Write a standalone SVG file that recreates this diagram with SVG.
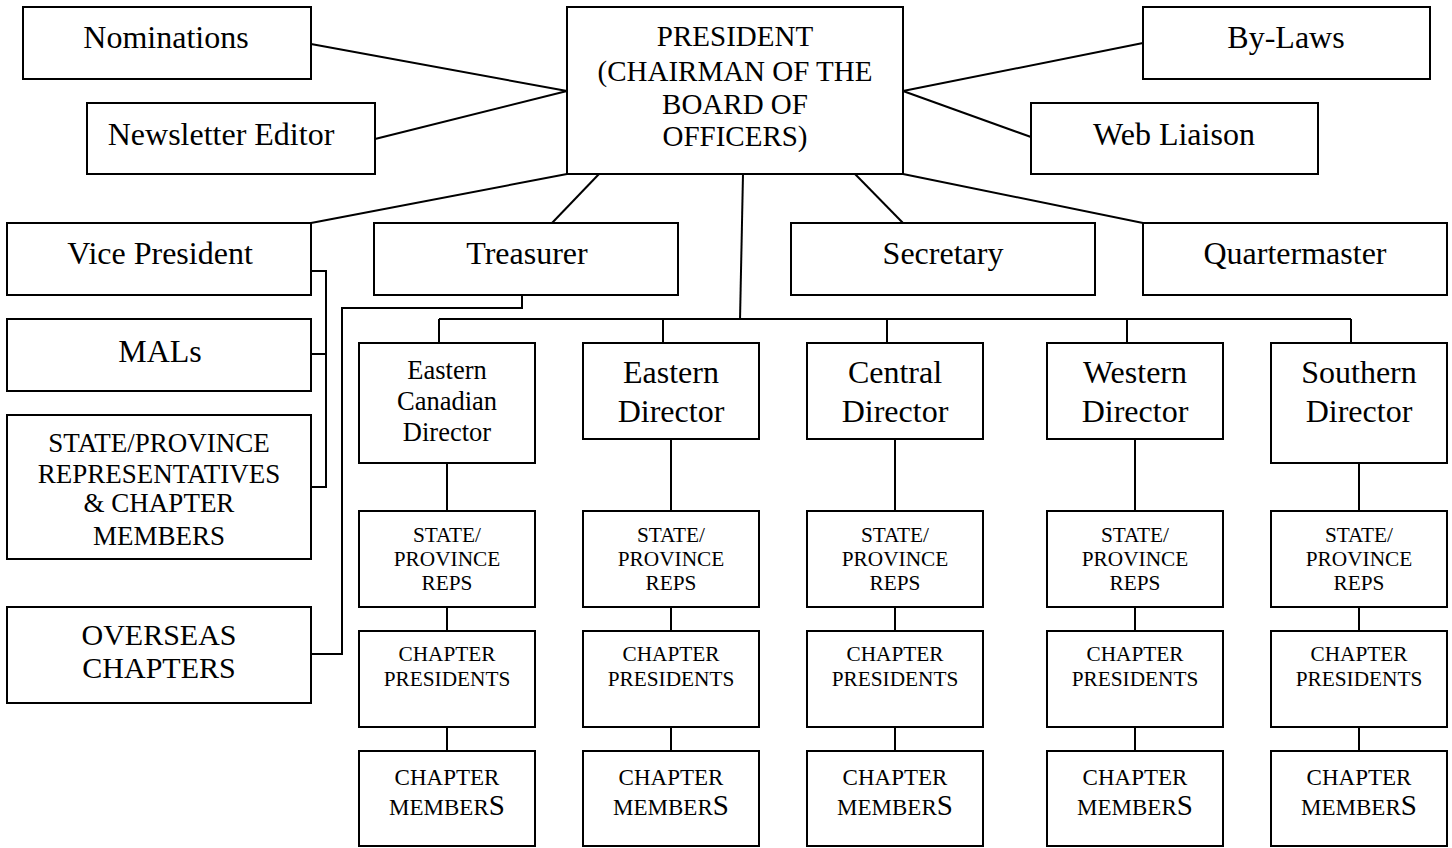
<svg xmlns="http://www.w3.org/2000/svg" width="1452" height="848" viewBox="0 0 1452 848">
<style>
rect{fill:#fff;stroke:#000;stroke-width:2}
.c line,.c polyline{stroke:#000;stroke-width:2;fill:none}
text{font-family:"Liberation Serif","Times New Roman",serif;fill:#000;text-anchor:middle}
.f32{font-size:32px}.f30{font-size:30px}.f29{font-size:29px}.f27{font-size:27px}.f26{font-size:26.5px}.f23{font-size:23px}.f21{font-size:21.3px}
</style>
<rect x="0" y="0" width="1452" height="848" style="stroke:none"/>
<g class="c" id="connectors">
<line x1="311" y1="44" x2="567" y2="91"/>
<line x1="375" y1="139" x2="567" y2="91"/>
<line x1="903" y1="91" x2="1143" y2="43"/>
<line x1="903" y1="91" x2="1031" y2="137"/>
<line x1="567" y1="174" x2="311" y2="223"/>
<line x1="599" y1="174" x2="552" y2="223"/>
<line x1="855" y1="174" x2="903" y2="223"/>
<line x1="903" y1="174" x2="1143" y2="223"/>
<line x1="743" y1="174" x2="740" y2="320"/>
<line x1="439" y1="319" x2="1351" y2="319"/>
<line x1="439" y1="319" x2="439" y2="343"/>
<line x1="663" y1="319" x2="663" y2="343"/>
<line x1="887" y1="319" x2="887" y2="343"/>
<line x1="1127" y1="319" x2="1127" y2="343"/>
<line x1="1351" y1="319" x2="1351" y2="343"/>
<polyline points="311,271 326,271 326,487 311,487"/>
<line x1="311" y1="354" x2="326" y2="354"/>
<polyline points="522,295 522,308 342,308 342,654 311,654"/>
<line x1="447" y1="463" x2="447" y2="511"/>
<line x1="671" y1="439" x2="671" y2="511"/>
<line x1="895" y1="439" x2="895" y2="511"/>
<line x1="1135" y1="439" x2="1135" y2="511"/>
<line x1="1359" y1="463" x2="1359" y2="511"/>
<line x1="447" y1="607" x2="447" y2="631"/>
<line x1="671" y1="607" x2="671" y2="631"/>
<line x1="895" y1="607" x2="895" y2="631"/>
<line x1="1135" y1="607" x2="1135" y2="631"/>
<line x1="1359" y1="607" x2="1359" y2="631"/>
<line x1="447" y1="727" x2="447" y2="751"/>
<line x1="671" y1="727" x2="671" y2="751"/>
<line x1="895" y1="727" x2="895" y2="751"/>
<line x1="1135" y1="727" x2="1135" y2="751"/>
<line x1="1359" y1="727" x2="1359" y2="751"/>
</g>
<g id="nominations"><rect x="23" y="7" width="288" height="72"/><text class="f32" x="166" y="48">Nominations</text></g>
<g id="newsletter"><rect x="87" y="103" width="288" height="71"/><text class="f32" x="221" y="145">Newsletter Editor</text></g>
<g id="president"><rect x="567" y="7" width="336" height="167"/>
<text class="f29" x="735" y="46">PRESIDENT</text>
<text class="f29" x="735" y="81">(CHAIRMAN OF THE</text>
<text class="f29" x="735" y="114">BOARD OF</text>
<text class="f29" x="735" y="146">OFFICERS)</text></g>
<g id="bylaws"><rect x="1143" y="7" width="287" height="72"/><text class="f32" x="1286" y="48">By-Laws</text></g>
<g id="webliaison"><rect x="1031" y="103" width="287" height="71"/><text class="f32" x="1174" y="145">Web Liaison</text></g>
<g id="vp"><rect x="7" y="223" width="304" height="72"/><text class="f32" x="160" y="264">Vice President</text></g>
<g id="treasurer"><rect x="374" y="223" width="304" height="72"/><text class="f32" x="527" y="264">Treasurer</text></g>
<g id="secretary"><rect x="791" y="223" width="304" height="72"/><text class="f32" x="943" y="264">Secretary</text></g>
<g id="quartermaster"><rect x="1143" y="223" width="304" height="72"/><text class="f32" x="1295" y="264">Quartermaster</text></g>
<g id="mals"><rect x="7" y="319" width="304" height="72"/><text class="f32" x="160" y="362">MALs</text></g>
<g id="stateprov"><rect x="7" y="415" width="304" height="144"/>
<text class="f27" x="159" y="452">STATE/PROVINCE</text>
<text class="f27" x="159" y="483">REPRESENTATIVES</text>
<text class="f27" x="159" y="512">&amp; CHAPTER</text>
<text class="f27" x="159" y="545">MEMBERS</text></g>
<g id="overseas"><rect x="7" y="607" width="304" height="96"/>
<text class="f30" x="159" y="645">OVERSEAS</text>
<text class="f30" x="159" y="678">CHAPTERS</text></g>
<g id="dir-ec"><rect x="359" y="343" width="176" height="120"/>
<text class="f26" x="447" y="379">Eastern</text><text class="f26" x="447" y="410">Canadian</text><text class="f26" x="447" y="441">Director</text></g>
<g id="dir-e"><rect x="583" y="343" width="176" height="96"/>
<text class="f32" x="671" y="383">Eastern</text><text class="f32" x="671" y="422">Director</text></g>
<g id="dir-c"><rect x="807" y="343" width="176" height="96"/>
<text class="f32" x="895" y="383">Central</text><text class="f32" x="895" y="422">Director</text></g>
<g id="dir-w"><rect x="1047" y="343" width="176" height="96"/>
<text class="f32" x="1135" y="383">Western</text><text class="f32" x="1135" y="422">Director</text></g>
<g id="dir-s"><rect x="1271" y="343" width="176" height="120"/>
<text class="f32" x="1359" y="383">Southern</text><text class="f32" x="1359" y="422">Director</text></g>
<g id="reps-1"><rect x="359" y="511" width="176" height="96"/><text class="f21" x="447" y="542">STATE/</text><text class="f21" x="447" y="566">PROVINCE</text><text class="f21" x="447" y="590">REPS</text></g>
<g id="reps-2"><rect x="583" y="511" width="176" height="96"/><text class="f21" x="671" y="542">STATE/</text><text class="f21" x="671" y="566">PROVINCE</text><text class="f21" x="671" y="590">REPS</text></g>
<g id="reps-3"><rect x="807" y="511" width="176" height="96"/><text class="f21" x="895" y="542">STATE/</text><text class="f21" x="895" y="566">PROVINCE</text><text class="f21" x="895" y="590">REPS</text></g>
<g id="reps-4"><rect x="1047" y="511" width="176" height="96"/><text class="f21" x="1135" y="542">STATE/</text><text class="f21" x="1135" y="566">PROVINCE</text><text class="f21" x="1135" y="590">REPS</text></g>
<g id="reps-5"><rect x="1271" y="511" width="176" height="96"/><text class="f21" x="1359" y="542">STATE/</text><text class="f21" x="1359" y="566">PROVINCE</text><text class="f21" x="1359" y="590">REPS</text></g>
<g id="pres-1"><rect x="359" y="631" width="176" height="96"/><text class="f21" x="447" y="661">CHAPTER</text><text class="f21" x="447" y="686">PRESIDENTS</text></g>
<g id="pres-2"><rect x="583" y="631" width="176" height="96"/><text class="f21" x="671" y="661">CHAPTER</text><text class="f21" x="671" y="686">PRESIDENTS</text></g>
<g id="pres-3"><rect x="807" y="631" width="176" height="96"/><text class="f21" x="895" y="661">CHAPTER</text><text class="f21" x="895" y="686">PRESIDENTS</text></g>
<g id="pres-4"><rect x="1047" y="631" width="176" height="96"/><text class="f21" x="1135" y="661">CHAPTER</text><text class="f21" x="1135" y="686">PRESIDENTS</text></g>
<g id="pres-5"><rect x="1271" y="631" width="176" height="96"/><text class="f21" x="1359" y="661">CHAPTER</text><text class="f21" x="1359" y="686">PRESIDENTS</text></g>
<g id="mem-1"><rect x="359" y="751" width="176" height="95"/><text class="f23" x="447" y="785">CHAPTER</text><text class="f23" x="447" y="815">MEMBER<tspan style="font-size:29px">S</tspan></text></g>
<g id="mem-2"><rect x="583" y="751" width="176" height="95"/><text class="f23" x="671" y="785">CHAPTER</text><text class="f23" x="671" y="815">MEMBER<tspan style="font-size:29px">S</tspan></text></g>
<g id="mem-3"><rect x="807" y="751" width="176" height="95"/><text class="f23" x="895" y="785">CHAPTER</text><text class="f23" x="895" y="815">MEMBER<tspan style="font-size:29px">S</tspan></text></g>
<g id="mem-4"><rect x="1047" y="751" width="176" height="95"/><text class="f23" x="1135" y="785">CHAPTER</text><text class="f23" x="1135" y="815">MEMBER<tspan style="font-size:29px">S</tspan></text></g>
<g id="mem-5"><rect x="1271" y="751" width="176" height="95"/><text class="f23" x="1359" y="785">CHAPTER</text><text class="f23" x="1359" y="815">MEMBER<tspan style="font-size:29px">S</tspan></text></g>
</svg>
